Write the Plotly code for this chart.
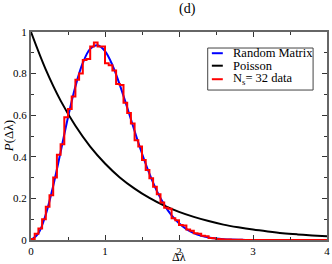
import numpy as np
import plotly.graph_objects as go

# ---- data ----
s_curve = [0.0, 0.1, 0.2, 0.3, 0.4, 0.5, 0.6, 0.7, 0.8, 0.9, 1.0, 1.1, 1.2, 1.3,
           1.4, 1.5, 1.6, 1.7, 1.8, 1.9, 2.0, 2.1, 2.2, 2.3, 2.4, 2.5, 2.6, 2.7,
           2.8, 2.9, 3.0, 3.5, 4.0]
random_matrix = [0.0, 0.032, 0.123, 0.260, 0.423, 0.590, 0.738, 0.851, 0.919,
                 0.936, 0.908, 0.841, 0.746, 0.637, 0.524, 0.416, 0.319, 0.236,
                 0.170, 0.118, 0.080, 0.052, 0.033, 0.020, 0.012, 0.007, 0.004,
                 0.002, 0.001, 0.0005, 0.0002, 0.0, 0.0]

s_poisson = [0.0, 0.2, 0.4, 0.6, 0.8, 1.0, 1.2, 1.4, 1.6, 1.8, 2.0, 2.2, 2.4,
             2.6, 2.8, 3.0, 3.2, 3.4, 3.6, 3.8, 4.0]
poisson = [1.0, 0.819, 0.670, 0.549, 0.449, 0.368, 0.301, 0.247, 0.202, 0.165,
           0.135, 0.111, 0.091, 0.074, 0.061, 0.050, 0.041, 0.033, 0.027, 0.022,
           0.018]

bin_width = 0.05
hist_values = [0.005, 0.03, 0.055, 0.10, 0.16, 0.215, 0.30, 0.41, 0.46, 0.59,
               0.63, 0.69, 0.77, 0.80, 0.865, 0.87, 0.93, 0.95, 0.93, 0.93,
               0.85, 0.84, 0.815, 0.75, 0.745, 0.66, 0.61, 0.56, 0.48, 0.45,
               0.385, 0.337, 0.297, 0.256, 0.22, 0.18, 0.155, 0.15, 0.105, 0.095,
               0.072, 0.07, 0.05, 0.045, 0.032, 0.03, 0.02, 0.018, 0.01, 0.008,
               0.005, 0.004, 0.003, 0.002, 0.001, 0.001, 0.001, 0.0, 0.0, 0.0,
               0.0, 0.0, 0.0, 0.0, 0.0, 0.0, 0.0, 0.0, 0.0, 0.0,
               0.0, 0.0, 0.0, 0.0, 0.0, 0.0, 0.0, 0.0, 0.0, 0.0]

legend_labels = ["Random Matrix", "Poisson", "N<sub>s</sub>= 32 data"]
colors = ["#0000ff", "#000000", "#ff0000"]

# histogram as a step line through bin edges
edges = [i * bin_width for i in range(len(hist_values) + 1)]
hist_y = hist_values + [hist_values[-1]]

FONT = "Liberation Serif, Times New Roman, serif"

fig = go.Figure()
fig.add_trace(go.Scatter(x=s_curve, y=random_matrix, mode="lines",
                         line=dict(color=colors[0], width=2, shape="spline"),
                         showlegend=False))
fig.add_trace(go.Scatter(x=s_poisson, y=poisson, mode="lines",
                         line=dict(color=colors[1], width=2, shape="spline"),
                         showlegend=False))
fig.add_trace(go.Scatter(x=edges, y=hist_y, mode="lines",
                         line=dict(color=colors[2], width=2, shape="hv"),
                         showlegend=False))

axis_common = dict(showline=True, linecolor="#666666", linewidth=2, mirror="ticks",
                   ticks="inside", ticklen=5, tickwidth=1, tickcolor="#333333",
                   showgrid=False, zeroline=False,
                   tickfont=dict(family=FONT, size=11, color="#000000"))

fig.update_xaxes(range=[0, 4], dtick=1, tick0=0,
                 minor=dict(dtick=0.5, ticks="inside", ticklen=3, tickcolor="#333333"),
                 **axis_common)
fig.update_yaxes(range=[0, 1], dtick=0.2, tick0=0,
                 minor=dict(dtick=0.1, ticks="inside", ticklen=3, tickcolor="#333333"),
                 **axis_common)

# legend drawn by hand (short line samples like the original)
shapes = [dict(type="rect", xref="paper", yref="paper", x0=0.597, x1=0.953,
               y0=0.721, y1=0.923, line=dict(color="#444444", width=1),
               fillcolor="white", layer="above")]
annotations = []
rows_y = [0.898, 0.838, 0.773]
for lab, col, yy in zip(legend_labels, colors, rows_y):
    shapes.append(dict(type="line", xref="paper", yref="paper", x0=0.611, x1=0.648,
                       y0=yy, y1=yy, line=dict(color=col, width=2), layer="above"))
    annotations.append(dict(xref="paper", yref="paper", x=0.674, y=yy, text=lab,
                            showarrow=False, xanchor="left", yanchor="middle",
                            font=dict(family=FONT, size=12.5, color="#000000")))

annotations.append(dict(xref="paper", yref="paper", x=0.530, y=1.11, text="(d)",
                        showarrow=False, xanchor="center", yanchor="middle",
                        font=dict(family=FONT, size=14, color="#000000")))
annotations.append(dict(xref="paper", yref="paper", x=0.5, y=-0.084, text="Δλ",
                        showarrow=False, xanchor="center", yanchor="middle",
                        font=dict(family=FONT, size=12, color="#000000")))
annotations.append(dict(xref="paper", yref="paper", x=-0.077, y=0.5,
                        text="<i>P</i>(Δλ)", textangle=-90,
                        showarrow=False, xanchor="center", yanchor="middle",
                        font=dict(family=FONT, size=13, color="#000000")))

fig.update_layout(width=332, height=264,
                  margin=dict(l=31, r=3, t=32, b=24),
                  paper_bgcolor="white", plot_bgcolor="white",
                  shapes=shapes, annotations=annotations, showlegend=False)

fig.write_html("out.html", config={"displayModeBar": False},
               post_script="document.body.style.margin='0';document.body.style.padding='0';")
